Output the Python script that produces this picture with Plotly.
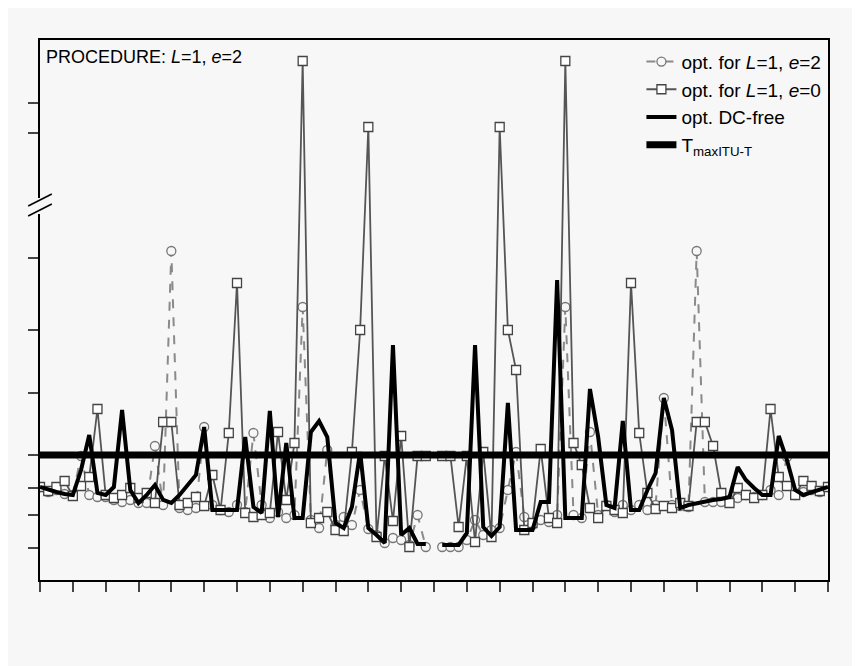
import plotly.graph_objects as go

# positions are sample indices 0..96; values are vertical readings (larger = lower on page)
idx = list(range(97))

opt_e2 = [487, 492, 490, 494, 495, 456, 495, 497, 497, 500, 502, 500, 503, 503, 446, 505,
          251, 508, 510, 508, 427, 505, 510, 512, 505, 512, 433, 505, 518, 512, 518, 515,
          307, 520, 528, 450, 525, 517, 525, 490, 529, 535, 543, 538, 540, 545, 515, 547,
          None, 547, 547, 547, 540, 520, 535, 530, 528, 490, 452, 517, 525, 520, 522, 515,
          307, 515, 518, 432, 515, 505, 512, 505, 510, 505, 510, 505, 398, 505, 506, 507,
          251, 502, 502, 502, 500, 498, 495, 497, 495, 490, 495, 457, 495, 492, 490, 492, 487]

opt_e0 = [487, 491, 487, 481, 496, 486, 477, 409, 495, 498, 495, 488, 498, 493, 503, 422,
          422, 505, 503, 497, 506, 475, 510, 433, 283, 513, 517, 515, 513, 432, 500, 443,
          61, 523, 518, 512, 530, 531, 452, 330, 127, 537, 456, 521, 436, 547, 456, 456,
          None, 456, 456, 527, 456, 542, 452, 537, 127, 330, 370, 530, 523, 449, 518, 523,
          61, 443, 465, 508, 518, 506, 510, 513, 283, 433, 493, 509, 506, 508, 503, 506,
          422, 422, 446, 493, 503, 488, 495, 498, 495, 409, 477, 486, 495, 481, 486, 491, 487]

dc_free = [487, 490, 492, 494, 495, 470, 435, 493, 495, 487, 410, 490, 503, 495, 485, 500,
           503, 495, 485, 475, 427, 510, 510, 510, 510, 437, 507, 513, 411, 517, 443, 518,
           518, 432, 421, 437, 523, 528, 507, 452, 528, 535, 543, 345, 535, 528, 544, 544,
           None, 545, 545, 545, 533, 345, 527, 536, 527, 403, 530, 530, 530, 502, 502, 280,
           518, 518, 518, 389, 437, 505, 508, 421, 510, 510, 490, 473, 398, 430, 508, 505,
           503, 502, 500, 499, 497, 467, 480, 488, 495, 495, 436, 460, 490, 495, 492, 490, 487]

t_max = [455] * 97

x_ticks = list(range(0, 97, 4))
y_ticks = [103, 133, 258, 330, 393, 455, 488, 515, 548]

bg = "#f7f7f7"
fig = go.Figure()

fig.add_trace(go.Scatter(x=idx, y=opt_e2, mode="lines+markers", name="opt. for <i>L</i>=1, <i>e</i>=2",
                         line=dict(color="#8a8a8a", width=2, dash="dash"),
                         marker=dict(symbol="circle", size=9, color=bg, line=dict(color="#777", width=1.3))))
fig.add_trace(go.Scatter(x=idx, y=opt_e0, mode="lines+markers", name="opt. for <i>L</i>=1, <i>e</i>=0",
                         line=dict(color="#555", width=1.8),
                         marker=dict(symbol="square", size=9, color="white", line=dict(color="#444", width=1.3))))
fig.add_trace(go.Scatter(x=idx, y=dc_free, mode="lines", name="opt. DC-free",
                         line=dict(color="black", width=4)))
fig.add_trace(go.Scatter(x=idx, y=t_max, mode="lines", name="T<sub>maxITU-T</sub>",
                         line=dict(color="black", width=7)))

# axis break mark on the left spine
fig.add_shape(type="rect", xref="paper", yref="y", x0=-0.012, x1=0.012, y0=198, y1=214,
              fillcolor=bg, line=dict(width=0), layer="above")
for y0 in (200, 210):
    fig.add_shape(type="line", xref="paper", yref="y", x0=-0.015, x1=0.015, y0=y0 + 6, y1=y0 - 6,
                  line=dict(color="black", width=1.5), layer="above")

fig.add_annotation(text="PROCEDURE: <i>L</i>=1, <i>e</i>=2", xref="paper", yref="paper",
                   x=0.005, y=0.99, xanchor="left", yanchor="top", showarrow=False,
                   font=dict(size=18, color="black"))

fig.update_xaxes(range=[0, 96], tickvals=x_ticks, showticklabels=False, ticks="outside",
                 ticklen=10, tickwidth=1.5, showgrid=False, zeroline=False,
                 showline=True, linecolor="black", linewidth=1.5, mirror=True)
fig.update_yaxes(range=[580, 40], tickvals=y_ticks, showticklabels=False, ticks="outside",
                 ticklen=10, tickwidth=1.5, showgrid=False, zeroline=False,
                 showline=True, linecolor="black", linewidth=1.5, mirror=True)

fig.update_layout(
    width=860, height=666,
    margin=dict(l=32, r=40, t=32, b=94),
    paper_bgcolor=bg, plot_bgcolor=bg,
    font=dict(family="Liberation Sans, Arial", size=17, color="black"),
    legend=dict(x=0.998, y=0.995, xanchor="right", yanchor="top", bgcolor="rgba(0,0,0,0)",
                traceorder="normal", font=dict(size=19), tracegroupgap=0),
)

fig.write_html("out.html")
